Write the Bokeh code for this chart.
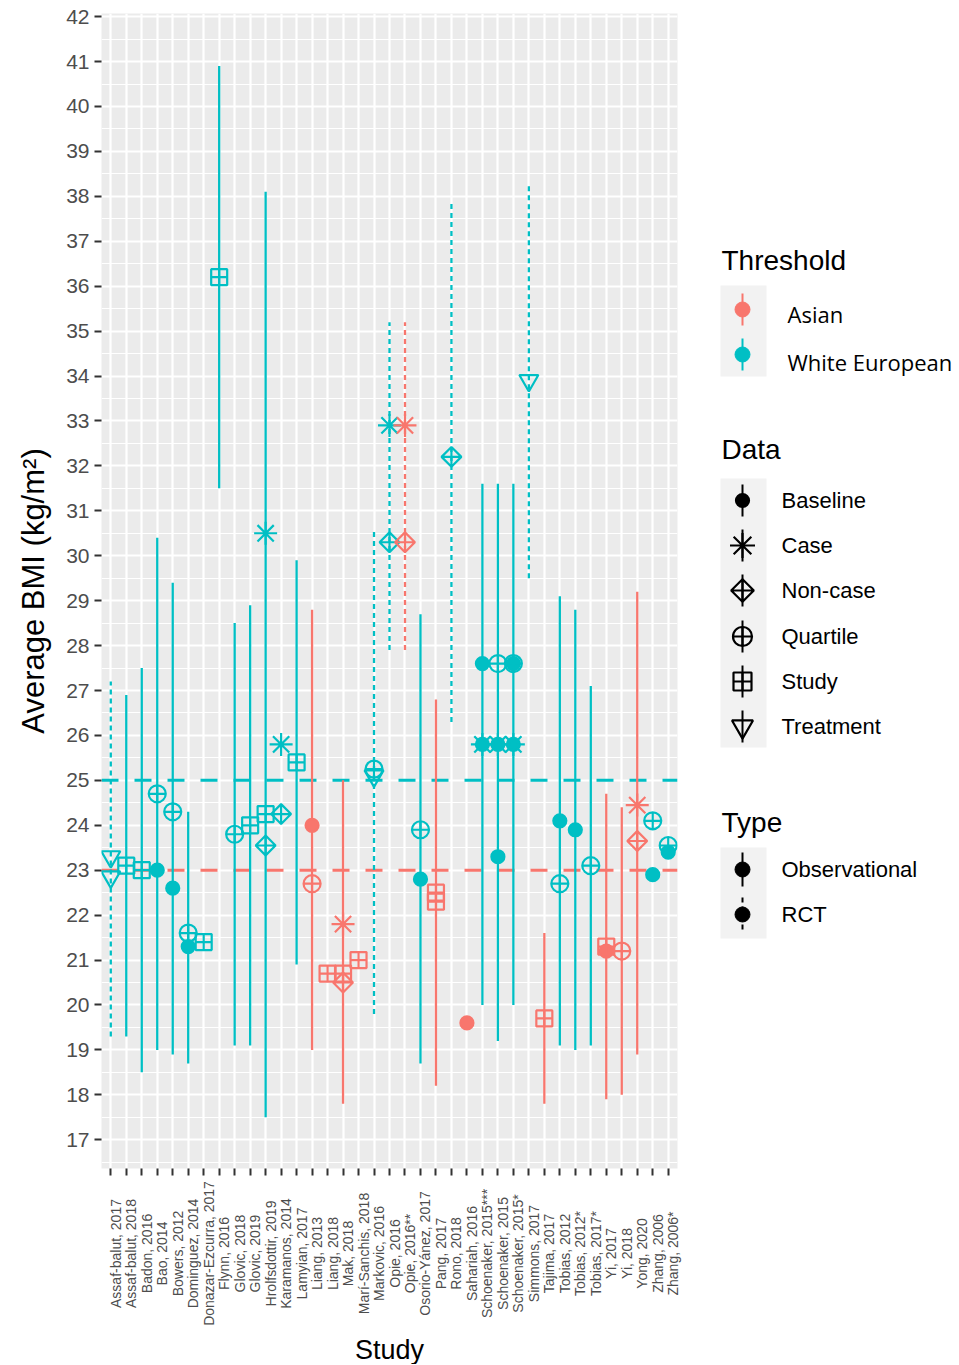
import math
from bokeh.plotting import figure
from bokeh.models import ColumnDataSource, Range1d, FixedTicker, Span
from bokeh.layouts import row, column
from bokeh.embed import file_html
from bokeh.resources import INLINE
from bokeh.core.properties import value

# ---------------- data ----------------
studies = [
    "Assaf-balut, 2017", "Assaf-balut, 2018", "Badon, 2016", "Bao, 2014", "Bowers, 2012",
    "Dominguez, 2014", "Donazar-Ezcurra, 2017", "Flynn, 2016", "Glovic, 2018", "Glovic, 2019",
    "Hrolfsdottir, 2019", "Karamanos, 2014", "Lamyian, 2017", "Liang, 2013", "Liang, 2018",
    "Mak, 2018", "Marí-Sanchis, 2018", "Markovic, 2016", "Opie, 2016", "Opie, 2016**",
    "Osorio-Yánez, 2017", "Pang, 2017", "Rono, 2018", "Sahariah, 2016", "Schoenaker, 2015***",
    "Schoenaker, 2015", "Schoenaker, 2015*", "Simmons, 2017", "Tajima, 2017", "Tobias, 2012",
    "Tobias, 2012*", "Tobias, 2017*", "Yi, 2017", "Yi, 2018", "Yong, 2020",
    "Zhang, 2006", "Zhang, 2006*",
]

threshold_names = ["Asian", "White European"]
threshold_bmi = [23, 25]
threshold_colors = ["#F8766D", "#00BFC4"]

# error bars (range of BMI per study)
bar_study = [
    "Assaf-balut, 2017", "Assaf-balut, 2018", "Badon, 2016", "Bao, 2014", "Bowers, 2012",
    "Dominguez, 2014", "Flynn, 2016", "Glovic, 2018", "Glovic, 2019", "Hrolfsdottir, 2019",
    "Lamyian, 2017", "Liang, 2013", "Mak, 2018", "Markovic, 2016", "Opie, 2016",
    "Opie, 2016**", "Osorio-Yánez, 2017", "Pang, 2017", "Rono, 2018", "Schoenaker, 2015***",
    "Schoenaker, 2015", "Schoenaker, 2015*", "Simmons, 2017", "Tajima, 2017", "Tobias, 2012",
    "Tobias, 2012*", "Tobias, 2017*", "Yi, 2017", "Yi, 2018", "Yong, 2020",
]
bar_low = [19.3, 19.3, 18.5, 19.0, 18.9, 18.7, 31.5, 19.1, 19.1, 17.5,
           20.9, 19.0, 17.8, 19.8, 27.9, 27.9, 18.7, 18.2, 26.3, 20.0,
           19.2, 20.0, 29.5, 17.8, 19.1, 19.0, 19.1, 17.9, 18.0, 18.9]
bar_high = [27.2, 26.9, 27.5, 30.4, 29.4, 24.3, 40.9, 28.5, 28.9, 38.1,
            29.9, 28.8, 25.0, 30.6, 35.2, 35.2, 28.7, 26.8, 37.9, 31.6,
            31.6, 31.6, 38.3, 21.6, 29.1, 28.8, 27.1, 24.7, 24.4, 29.2]
bar_threshold = [
    "White European", "White European", "White European", "White European", "White European",
    "White European", "White European", "White European", "White European", "White European",
    "White European", "Asian", "Asian", "White European", "White European",
    "Asian", "White European", "Asian", "White European", "White European",
    "White European", "White European", "White European", "Asian", "White European",
    "White European", "White European", "Asian", "Asian", "Asian",
]
bar_type = [
    "RCT", "Observational", "Observational", "Observational", "Observational",
    "Observational", "Observational", "Observational", "Observational", "Observational",
    "Observational", "Observational", "Observational", "RCT", "RCT",
    "RCT", "Observational", "Observational", "RCT", "Observational",
    "Observational", "Observational", "RCT", "Observational", "Observational",
    "Observational", "Observational", "Observational", "Observational", "Observational",
]

# points
pt_study = [
    "Assaf-balut, 2017", "Assaf-balut, 2017", "Assaf-balut, 2018", "Badon, 2016",
    "Bao, 2014", "Bao, 2014", "Bowers, 2012", "Bowers, 2012",
    "Dominguez, 2014", "Dominguez, 2014", "Donazar-Ezcurra, 2017", "Flynn, 2016",
    "Glovic, 2018", "Glovic, 2019",
    "Hrolfsdottir, 2019", "Hrolfsdottir, 2019", "Hrolfsdottir, 2019",
    "Karamanos, 2014", "Karamanos, 2014", "Lamyian, 2017",
    "Liang, 2013", "Liang, 2013", "Liang, 2018",
    "Mak, 2018", "Mak, 2018", "Mak, 2018", "Marí-Sanchis, 2018",
    "Markovic, 2016", "Markovic, 2016",
    "Opie, 2016", "Opie, 2016", "Opie, 2016**", "Opie, 2016**",
    "Osorio-Yánez, 2017", "Osorio-Yánez, 2017", "Pang, 2017", "Pang, 2017",
    "Rono, 2018", "Sahariah, 2016",
    "Schoenaker, 2015***", "Schoenaker, 2015***", "Schoenaker, 2015***",
    "Schoenaker, 2015", "Schoenaker, 2015", "Schoenaker, 2015", "Schoenaker, 2015",
    "Schoenaker, 2015*", "Schoenaker, 2015*", "Schoenaker, 2015*", "Schoenaker, 2015*",
    "Simmons, 2017", "Tajima, 2017", "Tobias, 2012", "Tobias, 2012",
    "Tobias, 2012*", "Tobias, 2017*", "Yi, 2017", "Yi, 2017", "Yi, 2018",
    "Yong, 2020", "Yong, 2020", "Zhang, 2006", "Zhang, 2006",
    "Zhang, 2006*", "Zhang, 2006*",
]
pt_bmi = [
    23.3, 22.85, 23.1, 23.0,
    24.7, 23.0, 24.3, 22.6,
    21.6, 21.3, 21.4, 36.2,
    23.8, 24.0,
    30.5, 24.25, 23.55,
    25.8, 24.25, 25.4,
    24.0, 22.7, 20.7,
    21.8, 20.7, 20.5, 21.0,
    25.25, 25.1,
    32.9, 30.3, 32.9, 30.3,
    23.9, 22.8, 22.5, 22.3,
    32.2, 19.6,
    27.6, 25.8, 25.8,
    27.6, 25.8, 25.8, 23.3,
    27.6, 27.6, 25.8, 25.8,
    33.9, 19.7, 24.1, 22.7,
    23.9, 23.1, 21.3, 21.2, 21.2,
    24.45, 23.65, 24.1, 22.9,
    23.55, 23.4,
]
pt_data = [
    "Treatment", "Treatment", "Study", "Study",
    "Quartile", "Baseline", "Quartile", "Baseline",
    "Quartile", "Baseline", "Study", "Study",
    "Quartile", "Study",
    "Case", "Study", "Non-case",
    "Case", "Non-case", "Study",
    "Baseline", "Quartile", "Study",
    "Case", "Study", "Non-case", "Study",
    "Quartile", "Treatment",
    "Case", "Non-case", "Case", "Non-case",
    "Quartile", "Baseline", "Study", "Study",
    "Non-case", "Baseline",
    "Baseline", "Baseline", "Case",
    "Quartile", "Baseline", "Case", "Baseline",
    "Baseline", "Quartile", "Baseline", "Case",
    "Treatment", "Study", "Baseline", "Quartile",
    "Baseline", "Quartile", "Study", "Baseline", "Quartile",
    "Case", "Non-case", "Quartile", "Baseline",
    "Quartile", "Baseline",
]
pt_threshold = [
    "White European", "White European", "White European", "White European",
    "White European", "White European", "White European", "White European",
    "White European", "White European", "White European", "White European",
    "White European", "White European",
    "White European", "White European", "White European",
    "White European", "White European", "White European",
    "Asian", "Asian", "Asian",
    "Asian", "Asian", "Asian", "Asian",
    "White European", "White European",
    "White European", "White European", "Asian", "Asian",
    "White European", "White European", "Asian", "Asian",
    "White European", "Asian",
    "White European", "White European", "White European",
    "White European", "White European", "White European", "White European",
    "White European", "White European", "White European", "White European",
    "White European", "Asian", "White European", "White European",
    "White European", "White European", "Asian", "Asian", "Asian",
    "Asian", "Asian", "White European", "White European",
    "White European", "White European",
]

data_names = ["Baseline", "Case", "Non-case", "Quartile", "Study", "Treatment"]
type_names = ["Observational", "RCT"]

# ---------------- styles ----------------
color_of = dict(zip(threshold_names, threshold_colors))
MARKERS = {
    "Baseline": dict(marker="circle", size=13, filled=True, angle=0.0),
    "Case": dict(marker="asterisk", size=23, filled=False, angle=0.0),
    "Non-case": dict(marker="square_x", size=14, filled=False, angle=math.pi / 4),
    "Quartile": dict(marker="circle_cross", size=17, filled=False, angle=0.0),
    "Study": dict(marker="square_cross", size=16, filled=False, angle=0.0),
    "Treatment": dict(marker="inverted_triangle", size=19, filled=False, angle=0.0),
}
DASH = {"Observational": "solid", "RCT": "5 4"}
FONT = "Liberation Sans"
TOP_H = 1178          # height of the plot row
TOTAL_H = 1364        # whole page height
FRAME_TOP, FRAME_BOTTOM = 13, 1168
W_MAIN = 679
FRAME_LEFT, FRAME_W = 101, 576

idx = {s: i + 1 for i, s in enumerate(studies)}
X_RANGE = (0.4, 37.6)
PX_PER_X = FRAME_W / (X_RANGE[1] - X_RANGE[0])

p = figure(
    width=W_MAIN, height=TOP_H,
    x_range=Range1d(*X_RANGE), y_range=Range1d(16.36, 42.07),
    output_backend="svg", toolbar_location=None,
    min_border_left=FRAME_LEFT, min_border_top=FRAME_TOP,
    min_border_right=W_MAIN - FRAME_LEFT - FRAME_W,
    min_border_bottom=TOP_H - FRAME_BOTTOM,
)
p.background_fill_color = "#EBEBEB"
p.border_fill_color = "white"
p.outline_line_color = None

p.yaxis.ticker = FixedTicker(ticks=list(range(17, 43)),
                             minor_ticks=[v + 0.5 for v in range(16, 42)])
p.xaxis.ticker = FixedTicker(ticks=list(range(1, len(studies) + 1)))
p.xaxis.major_label_overrides = {i + 1: "" for i in range(len(studies))}
p.xaxis.major_label_text_font_size = "1px"
p.xaxis.major_label_standoff = 0

for ax in (p.xaxis[0], p.yaxis[0]):
    ax.axis_line_color = None
    ax.major_tick_line_color = "#333333"
    ax.major_tick_line_width = 2
    ax.major_tick_in = 0
    ax.major_tick_out = 7
    ax.minor_tick_line_color = None

p.yaxis.major_label_text_font = FONT
p.yaxis.major_label_text_font_size = "21px"
p.yaxis.major_label_text_color = "#4D4D4D"
p.yaxis.major_label_standoff = 5
p.yaxis.axis_label = "Average BMI (kg/m²)"
p.yaxis.axis_label_text_font = FONT
p.yaxis.axis_label_text_font_size = "31px"
p.yaxis.axis_label_text_font_style = "normal"
p.yaxis.axis_label_text_color = "black"
p.yaxis.axis_label_standoff = 12

p.xgrid.grid_line_color = "white"
p.xgrid.grid_line_width = 2.2
p.ygrid.grid_line_color = "white"
p.ygrid.grid_line_width = 2.2
p.ygrid.minor_grid_line_color = "white"
p.ygrid.minor_grid_line_width = 1.1

# threshold lines
for name, bmi, col in zip(threshold_names, threshold_bmi, threshold_colors):
    p.add_layout(Span(location=bmi, dimension="width", line_color=col,
                      line_width=3, line_dash="17 16", level="underlay"))

# error bars
for t in type_names:
    sel = [i for i, tt in enumerate(bar_type) if tt == t]
    src = ColumnDataSource(dict(
        x=[idx[bar_study[i]] for i in sel],
        y0=[bar_low[i] for i in sel],
        y1=[bar_high[i] for i in sel],
        color=[color_of[bar_threshold[i]] for i in sel],
    ))
    p.segment(x0="x", y0="y0", x1="x", y1="y1", source=src, line_color="color",
              line_width=2.3, line_dash=DASH[t])

# points
for d in data_names:
    sel = [i for i, dd in enumerate(pt_data) if dd == d]
    st = MARKERS[d]
    src = ColumnDataSource(dict(
        x=[idx[pt_study[i]] for i in sel],
        y=[pt_bmi[i] for i in sel],
        color=[color_of[pt_threshold[i]] for i in sel],
    ))
    p.scatter(x="x", y="y", source=src, marker=st["marker"], size=st["size"],
              angle=st["angle"], line_color="color", line_width=2.2,
              fill_color="color" if st["filled"] else None)

# ---------------- category labels strip (same x scale, page y coordinates) ----------------
LAB_W = 687
lab_x_end = X_RANGE[0] + (LAB_W - FRAME_LEFT) / PX_PER_X
lab = figure(width=LAB_W, height=TOTAL_H - TOP_H, x_range=Range1d(X_RANGE[0], lab_x_end),
             y_range=Range1d(TOTAL_H, TOP_H), x_axis_type=None, y_axis_type=None,
             output_backend="svg", toolbar_location=None,
             min_border_left=FRAME_LEFT, min_border_right=0, min_border_top=0,
             min_border_bottom=0)
lab.grid.visible = False
lab.outline_line_color = None
lab.background_fill_color = "white"
lab.border_fill_color = "white"
lab_src = ColumnDataSource(dict(x=[idx[s] for s in studies], y=[1253] * len(studies), name=studies))
lab.text(x="x", y="y", text="name", source=lab_src, angle=math.pi / 2, x_offset=5,
         text_align="center", text_baseline="middle", text_font=value(FONT),
         text_font_size="14px", text_color="#4D4D4D")
lab.text(x=[sum(X_RANGE) / 2], y=[1349], text=["Study"], text_align="center",
         text_baseline="middle", text_font=value(FONT), text_font_size="27px",
         text_color="black")

# ---------------- legend panel (page coordinates) ----------------
X0, X1 = 679, 959
lg = figure(width=X1 - X0, height=TOP_H, x_range=Range1d(X0, X1),
            y_range=Range1d(FRAME_BOTTOM, FRAME_TOP),
            x_axis_type=None, y_axis_type=None, output_backend="svg",
            toolbar_location=None, min_border=0, min_border_top=FRAME_TOP,
            min_border_bottom=TOP_H - FRAME_BOTTOM)
lg.grid.visible = False
lg.outline_line_color = None
lg.background_fill_color = "white"
lg.border_fill_color = "white"

KX = 742
title_y = [260, 449, 822]
titles = ["Threshold", "Data", "Type"]
lg.text(x=[721] * 3, y=title_y, text=titles, text_font=value(FONT), text_font_size="28px",
        text_baseline="middle", text_color="black")

# key backgrounds
lg.quad(left=[720, 720, 720], right=[766, 766, 766], top=[285, 478, 847],
        bottom=[376, 747, 938], fill_color="#F2F2F2", line_color=None)

# threshold keys
th_y = [309, 354]
lg.segment(x0=[KX] * 2, x1=[KX] * 2, y0=[y - 16 for y in th_y], y1=[y + 16 for y in th_y],
           line_color=threshold_colors, line_width=2)
lg.scatter(x=[KX] * 2, y=th_y, marker="circle", size=15, fill_color=threshold_colors,
           line_color=threshold_colors)
lg.text(x=[787] * 2, y=[313, 361], text=threshold_names, text_font=value("Open Sans"),
        text_font_size="22px", text_baseline="middle", text_color="black")

# data keys
data_y = [500, 545, 590, 636, 681, 726]
lg.segment(x0=[KX] * 6, x1=[KX] * 6, y0=[y - 16 for y in data_y], y1=[y + 16 for y in data_y],
           line_color="black", line_width=2)
for d, y in zip(data_names, data_y):
    st = MARKERS[d]
    lg.scatter(x=[KX], y=[y], marker=st["marker"], size=st["size"] + 2 if d != "Baseline" else 13,
               angle=st["angle"], line_color="black", line_width=2.2,
               fill_color="black" if st["filled"] else None)
lg.text(x=[781] * 6, y=data_y, text=data_names, text_font=value(FONT), text_font_size="22px",
        text_baseline="middle", text_color="black")

# type keys
type_y = [869, 914]
for t, y in zip(type_names, type_y):
    lg.segment(x0=[KX], x1=[KX], y0=[y - 17], y1=[y + 17], line_color="black",
               line_width=2, line_dash=DASH[t])
lg.scatter(x=[KX] * 2, y=type_y, marker="circle", size=15, fill_color="black", line_color="black")
lg.text(x=[781] * 2, y=type_y, text=type_names, text_font=value(FONT), text_font_size="22px",
        text_baseline="middle", text_color="black")

layout = column(row(p, lg), lab)
open("out.html", "w").write(file_html(layout, INLINE))
